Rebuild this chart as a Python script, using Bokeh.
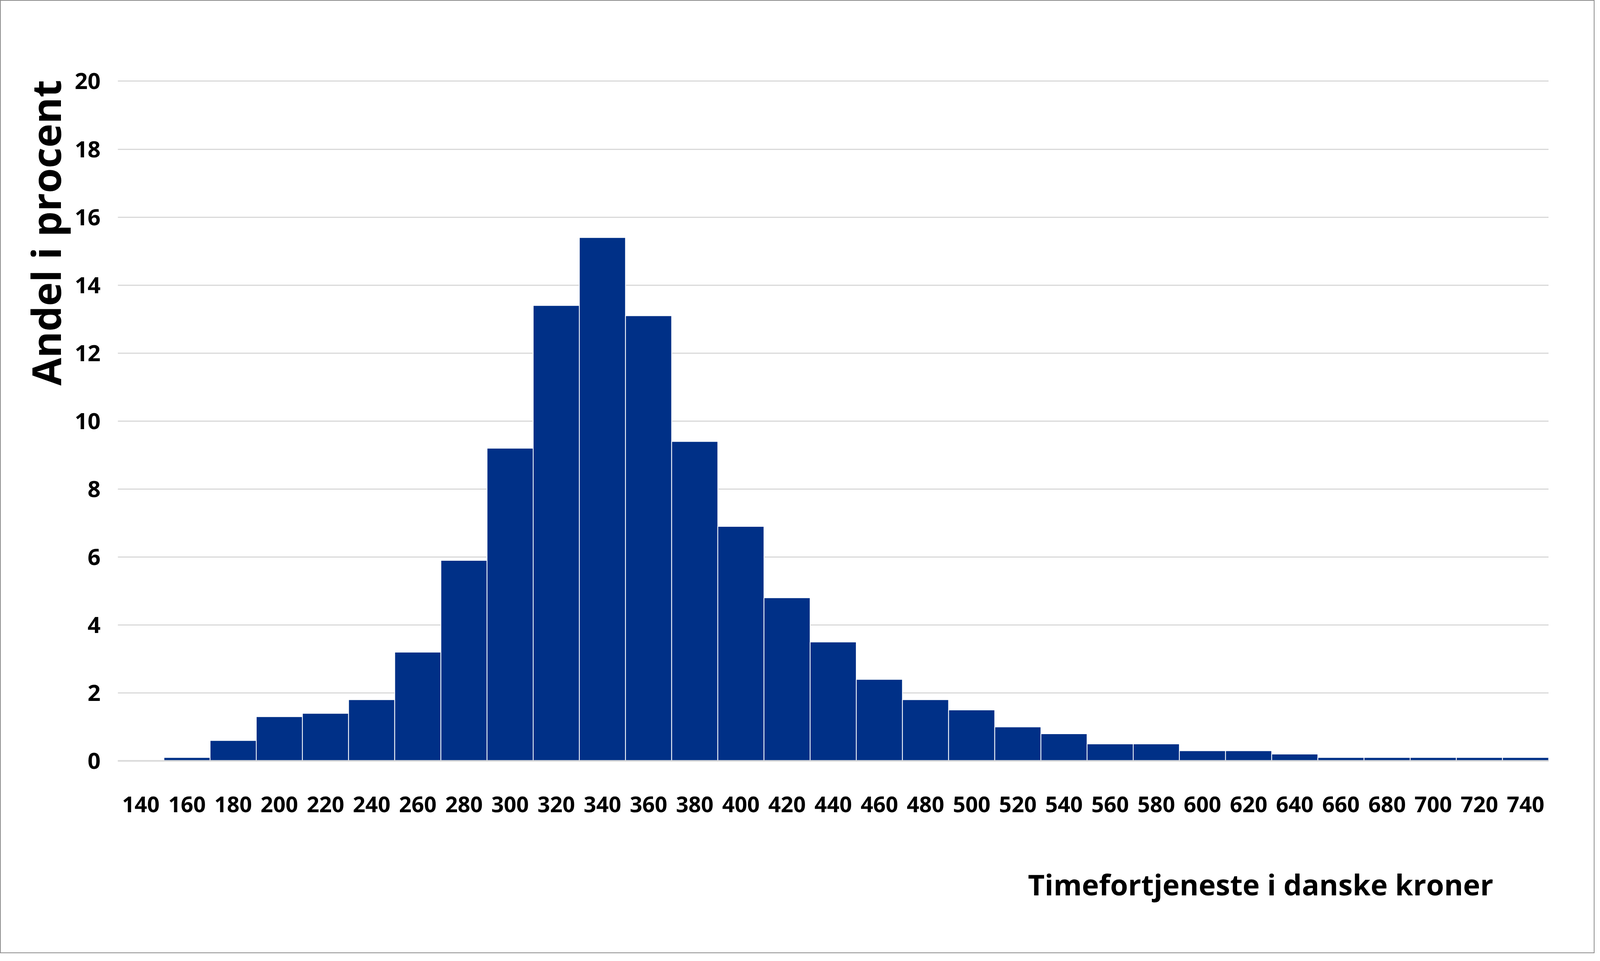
from bokeh.plotting import figure
from bokeh.models import Range1d, FixedTicker, Title
from bokeh.embed import file_html
from bokeh.resources import INLINE

# Data
wage_bins = [140, 160, 180, 200, 220, 240, 260, 280, 300, 320, 340, 360, 380, 400, 420,
             440, 460, 480, 500, 520, 540, 560, 580, 600, 620, 640, 660, 680, 700, 720, 740]
share_pct = [0.0, 0.1, 0.6, 1.3, 1.4, 1.8, 3.2, 5.9, 9.2, 13.4, 15.4, 13.1, 9.4, 6.9, 4.8,
             3.5, 2.4, 1.8, 1.5, 1.0, 0.8, 0.5, 0.5, 0.3, 0.3, 0.2, 0.1, 0.1, 0.1, 0.1, 0.1]
y_ticks = [0, 2, 4, 6, 8, 10, 12, 14, 16, 18, 20]
x_title = "Timefortjeneste i danske kroner"
y_title = "Andel i procent"

FONT = "Open Sans"
BAR = "#003087"
GRID = "#d9d9d9"

W, H = 4082, 2441
p = figure(width=W, height=H, output_backend="svg", toolbar_location=None,
           x_range=Range1d(130, 750), y_range=Range1d(0, 20.04),
           min_border_left=299, min_border_right=120,
           min_border_top=202, min_border_bottom=490)
p.styles = {"border": "2px solid #8c8c8c"}
p.outline_line_color = None
p.background_fill_color = "white"
p.border_fill_color = "white"

p.vbar(x=wage_bins, top=share_pct, width=20, bottom=0,
       fill_color=BAR, line_color="white", line_width=2)

p.xgrid.visible = False
p.ygrid.grid_line_color = GRID
p.ygrid.grid_line_width = 3
p.ygrid.ticker = FixedTicker(ticks=y_ticks)

xa = p.xaxis[0]
xa.ticker = FixedTicker(ticks=wage_bins)
xa.axis_line_color = GRID
xa.axis_line_width = 4
xa.major_tick_line_color = None
xa.minor_tick_line_color = None
xa.major_label_text_font = FONT
xa.major_label_text_font_style = "bold"
xa.major_label_text_font_size = "56px"
xa.major_label_text_color = "black"
xa.major_label_standoff = 85

ya = p.yaxis[0]
ya.ticker = FixedTicker(ticks=y_ticks)
ya.axis_line_color = None
ya.major_tick_line_color = None
ya.minor_tick_line_color = None
ya.major_label_text_font = FONT
ya.major_label_text_font_style = "bold"
ya.major_label_text_font_size = "58px"
ya.major_label_text_color = "black"
ya.major_label_standoff = 38

p.add_layout(Title(text=y_title, align="right", text_font=FONT,
                   text_font_style="bold", text_font_size="103px",
                   text_color="black", standoff=5), "left")
p.add_layout(Title(text=x_title, align="left", offset=2330, text_font=FONT,
                   text_font_style="bold", text_font_size="74px",
                   text_color="black", standoff=258), "below")

open("out.html", "w").write(file_html(p, INLINE))
